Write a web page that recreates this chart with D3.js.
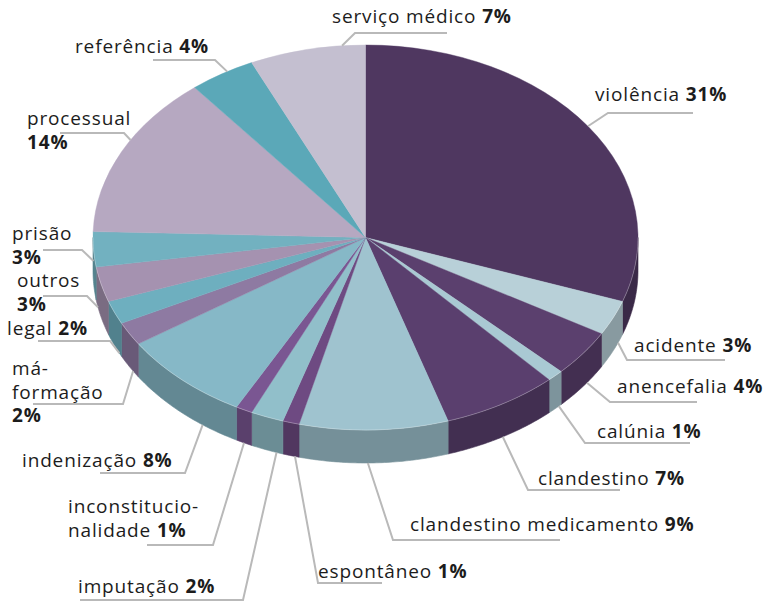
<!DOCTYPE html>
<html>
<head>
<meta charset="utf-8">
<script src="https://cdn.jsdelivr.net/npm/d3@7"></script>
<style>
  html, body { margin: 0; background: #ffffff; }
  svg text { font-family: "Open Sans", "Noto Sans", sans-serif; fill: #1c1c1c; letter-spacing: 0.85px; }
</style>
</head>
<body>
<svg id="chart" width="764" height="602"></svg>
<script>
// Grounds cited, share of cases (%), clockwise from 12 o'clock
const categories = [
  "violência", "acidente", "anencefalia", "calúnia", "clandestino",
  "clandestino medicamento", "espontâneo", "imputação", "inconstitucionalidade",
  "indenização", "má-formação", "legal", "outros", "prisão", "processual",
  "referência", "serviço médico"
];
const values = [31, 3, 4, 1, 7, 9, 1, 2, 1, 8, 2, 2, 3, 3, 14, 4, 7];
const colors = [
  "#4f3760", "#b8d0d8", "#5b406e", "#a9c9d3", "#5a3f6e",
  "#9fc3cf", "#6e4a82", "#91bfca", "#7a5692",
  "#86b8c7", "#8e7aa2", "#6eafbf", "#a592b0", "#72b1c0", "#b6a8c1",
  "#5ba8b8", "#c4bfd0"
];

// Label text broken into lines; the percentage follows the last line
// (an empty last line puts it on its own row).
const labelLines = {
  "violência": ["violência"],
  "acidente": ["acidente"],
  "anencefalia": ["anencefalia"],
  "calúnia": ["calúnia"],
  "clandestino": ["clandestino"],
  "clandestino medicamento": ["clandestino medicamento"],
  "espontâneo": ["espontâneo"],
  "imputação": ["imputação"],
  "inconstitucionalidade": ["inconstitucio-", "nalidade"],
  "indenização": ["indenização"],
  "má-formação": ["má-", "formação", ""],
  "legal": ["legal"],
  "outros": ["outros", ""],
  "prisão": ["prisão", ""],
  "processual": ["processual", ""],
  "referência": ["referência"],
  "serviço médico": ["serviço médico"]
};

// Label layout: text origin (x, first baseline), leader anchor on the slice
// (t = fraction across the slice, d = fraction down the rim), elbow and tail.
const labelLayout = {
  "violência":               { x: 595, y: 101, t: 0.50, d: 0,    elbow: [608, 113], tail: 693 },
  "acidente":                { x: 634, y: 352, t: 0.25, d: 1,    elbow: [627, 360], tail: 725 },
  "anencefalia":             { x: 617, y: 393, t: 0.40, d: 1,    elbow: [610, 402], tail: 697 },
  "calúnia":                 { x: 597, y: 438, t: 0.20, d: 1,    elbow: [585, 443], tail: 690 },
  "clandestino":             { x: 538, y: 485, t: 0.49, d: 1,    elbow: [528, 490], tail: 620 },
  "clandestino medicamento": { x: 410, y: 531, t: 0.54, d: 1,    elbow: [393, 540], tail: 560 },
  "espontâneo":              { x: 318, y: 578, t: 0.25, d: 1,    elbow: [318, 583], tail: 382 },
  "imputação":               { x: 78,  y: 593, t: 0.20, d: 1,    elbow: [243, 600], tail: 80 },
  "inconstitucionalidade":   { x: 68,  y: 513, t: 0.50, d: 1,    elbow: [213, 545], tail: 147 },
  "indenização":             { x: 22,  y: 467, t: 0.30, d: 1,    elbow: [185, 473], tail: 100 },
  "má-formação":             { x: 12,  y: 375, t: 0.29, d: 1,    elbow: [123, 404], tail: 33 },
  "legal":                   { x: 7,   y: 335, t: 0.15, d: 1,    elbow: [110, 341], tail: 38 },
  "outros":                  { x: 17,  y: 287, t: 0.79, d: 1,    elbow: [87, 296],  tail: 43 },
  "prisão":                  { x: 12,  y: 240, t: 0.50, d: 0.35, elbow: [82, 250],  tail: 43 },
  "processual":              { x: 27,  y: 125, t: 0.58, d: 0,    elbow: [124, 133], tail: 60 },
  "referência":              { x: 75,  y: 53,  t: 0.59, d: 0,    elbow: [215, 60],  tail: 153 },
  "serviço médico":          { x: 332, y: 23,  t: 0.80, d: 0,    elbow: [355, 33],  tail: 447 }
};
const lineHeight = 23.5;

const svg = d3.select("#chart");
const cx = 365.5, cy = 237.5, rx = 272.5, ry = 192.5, depth = 33;

const data = categories.map((c, i) => ({ name: c, value: values[i], color: colors[i] }));
const pie = d3.pie().sort(null).value(d => d.value);
const arcs = pie(data);

// point on the elliptical rim at angle a (radians, clockwise from top), dropped by dz
const rim = (a, dz = 0) => [cx + rx * Math.sin(a), cy - ry * Math.cos(a) + dz];

// --- rim (visible front half: angles between π/2 and 3π/2)
const front0 = Math.PI / 2, front1 = 3 * Math.PI / 2;
const sideG = svg.append("g");
arcs.forEach(a => {
  const s = Math.max(a.startAngle, front0), e = Math.min(a.endAngle, front1);
  if (e <= s) return;
  const steps = Math.max(2, Math.ceil((e - s) / 0.01));
  const top = d3.range(steps + 1).map(k => rim(s + (e - s) * k / steps));
  const bottom = top.map(p => [p[0], p[1] + depth]).reverse();
  const sideColor = d3.color(a.data.color).darker(0.85);
  sideG.append("path")
    .attr("d", d3.line()(top.concat(bottom)) + "Z")
    .attr("fill", sideColor)
    .attr("stroke", sideColor)
    .attr("stroke-width", 0.6);
});

// --- top face: circular arcs squashed into the ellipse
const arcGen = d3.arc().innerRadius(0).outerRadius(rx);
const topG = svg.append("g")
  .attr("transform", `translate(${cx},${cy}) scale(1,${ry / rx})`);
topG.selectAll("path")
  .data(arcs)
  .join("path")
  .attr("d", arcGen)
  .attr("fill", d => d.data.color)
  .attr("stroke", d => d.data.color)
  .attr("stroke-width", 0.5);

// faint highlight where the top meets the rim
const rimSteps = 200;
const rimPts = d3.range(rimSteps + 1).map(k => rim(front0 + (front1 - front0) * k / rimSteps));
svg.append("path")
  .attr("d", d3.line()(rimPts))
  .attr("fill", "none")
  .attr("stroke", "rgba(255,255,255,0.35)")
  .attr("stroke-width", 0.8);

// --- leaders and labels
const leaderG = svg.append("g");
const labelG = svg.append("g");
arcs.forEach(a => {
  const name = a.data.name;
  const L = labelLayout[name];
  const ang = a.startAngle + (a.endAngle - a.startAngle) * L.t;
  const anchor = rim(ang, L.d * depth);
  leaderG.append("path")
    .attr("d", d3.line()([anchor, L.elbow, [L.tail, L.elbow[1]]]))
    .attr("fill", "none")
    .attr("stroke", "#b9b9b9")
    .attr("stroke-width", 2);

  const lines = labelLines[name];
  const pct = a.data.value + "%";
  const text = labelG.append("text").attr("font-size", 19);
  lines.forEach((ln, i) => {
    const row = text.append("tspan")
      .attr("x", L.x)
      .attr("y", L.y + i * lineHeight);
    if (ln) row.append("tspan").text(ln);
    if (i === lines.length - 1) {
      row.append("tspan")
        .attr("font-weight", 700)
        .text((ln ? " " : "") + pct);
    }
  });
});
</script>
</body>
</html>
